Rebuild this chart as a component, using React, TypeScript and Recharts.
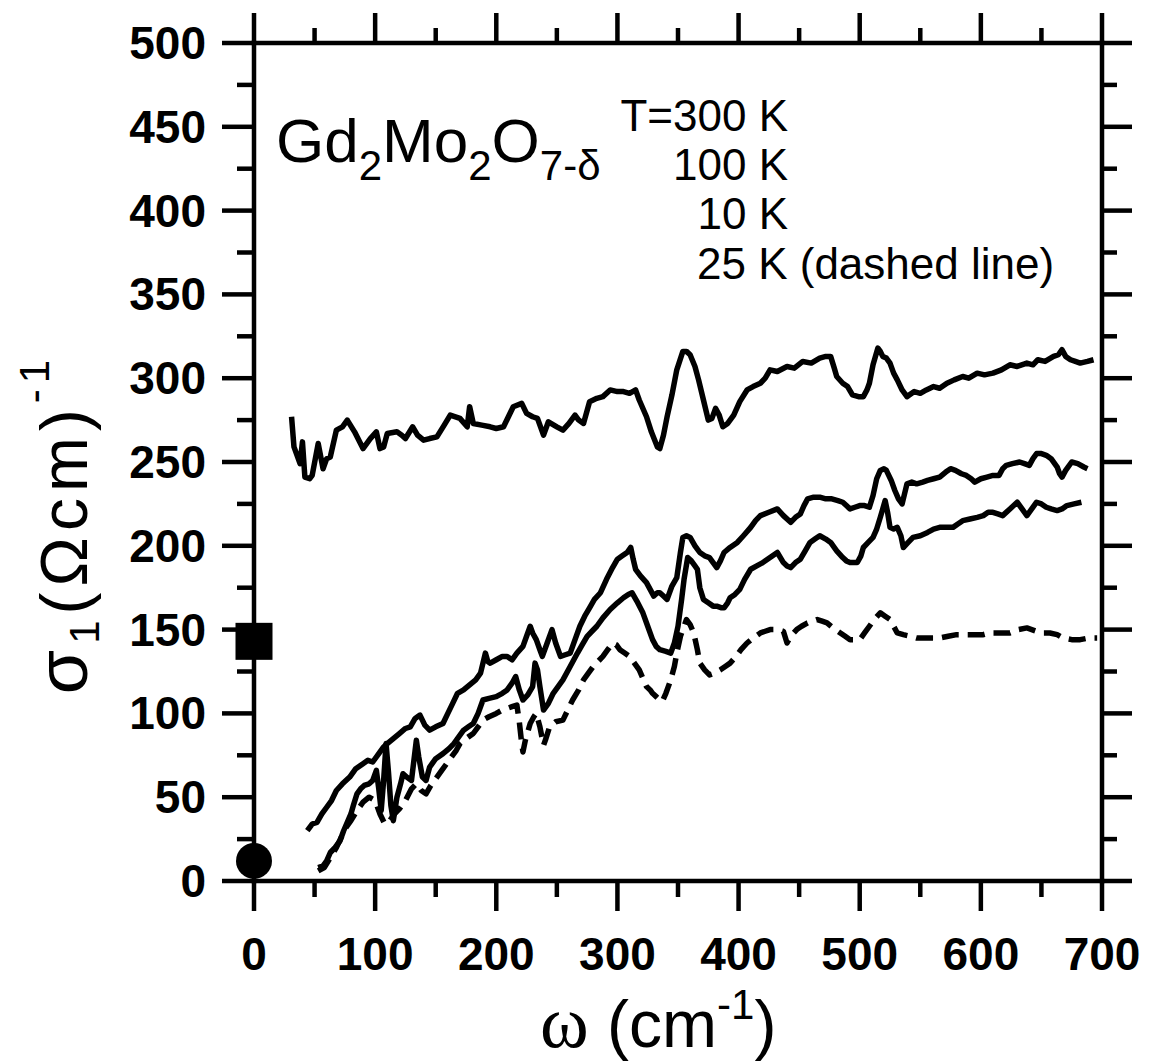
import React from 'react';
import { ComposedChart, Line, Scatter, XAxis, YAxis } from 'recharts';

// ---------- data ----------
const omega300 = [31, 33, 38, 40, 42, 46, 48, 53, 57, 60, 63, 68, 73, 77, 83, 90, 96, 101, 104, 107, 110, 118, 122, 125, 131, 135, 140, 145, 151, 157, 162, 170, 176, 178, 181, 188, 195, 200, 206, 214, 221, 225, 230, 234, 239, 243, 250, 255, 260, 265, 268, 272, 277, 283, 288, 294, 300, 305, 310, 315, 318, 324, 328, 333, 335, 338, 341, 345, 349, 354, 357, 360, 364, 367, 371, 375, 378, 381, 384, 387, 391, 396, 401, 407, 412, 418, 422, 426, 432, 440, 446, 453, 460, 467, 472, 476, 479, 481, 486, 490, 494, 499, 503, 506, 508, 511, 515, 517, 519, 522, 525, 528, 531, 535, 539, 545, 550, 555, 561, 566, 572, 578, 585, 590, 597, 603, 610, 617, 624, 630, 638, 643, 647, 653, 660, 664, 667, 670, 674, 678, 682, 688, 693];
const sigma300 = [277, 259, 249, 262, 241, 240, 242, 261, 246, 252, 253, 269, 271, 275, 268, 258, 264, 268, 258, 259, 267, 268, 266, 264, 271, 266, 263, 264, 265, 272, 278, 276, 271, 283, 273, 272, 271, 270, 271, 283, 285, 279, 277, 276, 266, 274, 271, 269, 273, 278, 275, 273, 286, 288, 289, 293, 292, 292, 291, 293, 287, 277, 268, 259, 258, 266, 277, 290, 305, 316, 316, 314, 307, 299, 287, 275, 276, 282, 278, 271, 273, 278, 286, 293, 295, 297, 300, 305, 304, 307, 306, 310, 309, 312, 313, 313, 306, 301, 297, 295, 290, 289, 289, 293, 297, 308, 318, 316, 313, 312, 309, 303, 299, 293, 289, 292, 291, 293, 295, 294, 297, 299, 301, 300, 303, 302, 303, 305, 308, 307, 309, 308, 311, 310, 313, 314, 317, 313, 311, 310, 309, 310, 311];

const omega100 = [44, 48, 52, 56, 60, 64, 68, 73, 79, 84, 90, 94, 98, 103, 107, 110, 115, 120, 125, 129, 133, 137, 141, 145, 150, 156, 160, 164, 168, 173, 178, 183, 187, 191, 193, 195, 200, 205, 209, 213, 217, 222, 225, 228, 230, 233, 236, 238, 242, 246, 249, 253, 257, 261, 265, 269, 273, 277, 281, 286, 291, 296, 300, 304, 308, 311, 313, 315, 319, 324, 327, 330, 333, 335, 338, 341, 345, 349, 352, 354, 357, 360, 364, 368, 372, 376, 379, 382, 385, 388, 393, 399, 404, 410, 414, 418, 425, 432, 437, 443, 447, 451, 454, 457, 462, 467, 472, 477, 482, 486, 489, 492, 496, 500, 504, 508, 511, 514, 517, 520, 522, 526, 529, 532, 535, 537, 539, 543, 547, 552, 556, 561, 566, 571, 575, 579, 584, 588, 592, 595, 600, 605, 610, 615, 618, 621, 626, 632, 636, 640, 643, 646, 650, 654, 658, 663, 665, 667, 670, 675, 680, 685, 688];
const sigma100 = [30, 34, 35, 40, 44, 48, 54, 58, 62, 67, 70, 72, 71, 76, 80, 82, 85, 88, 91, 92, 97, 99, 93, 90, 92, 94, 100, 106, 112, 114, 117, 120, 124, 136, 131, 130, 132, 134, 134, 132, 136, 140, 146, 152, 148, 144, 138, 134, 142, 150, 142, 134, 135, 136, 144, 152, 158, 163, 168, 172, 180, 187, 192, 194, 196, 199, 192, 186, 182, 178, 174, 170, 172, 172, 170, 168, 176, 181, 196, 205, 206, 205, 200, 196, 194, 193, 190, 187, 191, 196, 199, 202, 206, 211, 215, 218, 220, 222, 218, 214, 217, 219, 224, 228, 229, 229, 228, 228, 227, 226, 224, 222, 223, 224, 224, 223, 230, 240, 245, 246, 245, 239, 233, 228, 225, 231, 237, 238, 237, 238, 239, 240, 241, 244, 246, 245, 243, 242, 240, 238, 240, 241, 242, 242, 246, 248, 249, 250, 249, 248, 252, 255, 255, 254, 252, 247, 243, 241, 245, 250, 249, 247, 246];

const omega10 = [53, 57, 60, 63, 67, 71, 74, 77, 80, 82, 85, 88, 91, 95, 98, 101, 103, 105, 107, 109, 111, 113, 115, 118, 121, 123, 126, 130, 132, 134, 136, 139, 142, 145, 150, 156, 161, 165, 169, 173, 177, 181, 185, 189, 194, 200, 205, 209, 213, 216, 219, 222, 226, 230, 232, 234, 236, 239, 243, 247, 251, 255, 261, 267, 271, 275, 279, 283, 288, 294, 300, 305, 309, 312, 316, 321, 325, 329, 332, 335, 340, 344, 347, 350, 353, 355, 358, 361, 364, 366, 368, 371, 375, 379, 382, 386, 388, 391, 393, 397, 401, 405, 410, 415, 420, 426, 432, 437, 440, 443, 447, 451, 455, 459, 463, 467, 472, 476, 481, 486, 489, 492, 498, 501, 503, 507, 511, 514, 517, 519, 521, 523, 525, 528, 531, 534, 536, 540, 544, 550, 556, 561, 566, 572, 577, 581, 585, 591, 597, 602, 606, 610, 614, 618, 624, 630, 634, 638, 642, 646, 650, 654, 658, 663, 667, 671, 677, 683];
const sigma10 = [8, 9, 12, 17, 20, 24, 30, 35, 40, 45, 52, 55, 57, 58, 60, 66, 55, 42, 60, 82, 65, 45, 36, 50, 58, 64, 62, 60, 72, 84, 74, 62, 60, 68, 73, 76, 79, 82, 86, 90, 92, 94, 100, 108, 109, 110, 112, 114, 118, 122, 114, 108, 111, 116, 130, 126, 116, 102, 106, 112, 116, 120, 128, 136, 141, 146, 149, 152, 157, 162, 166, 169, 171, 172, 167, 160, 152, 144, 140, 138, 137, 136, 142, 152, 168, 180, 193, 191, 188, 186, 175, 168, 166, 164, 164, 163, 163, 166, 169, 171, 174, 180, 186, 188, 190, 193, 196, 190, 188, 187, 190, 192, 197, 202, 204, 206, 204, 202, 197, 193, 191, 190, 190, 194, 199, 202, 205, 210, 217, 222, 227, 220, 211, 210, 211, 206, 199, 202, 205, 206, 208, 210, 211, 211, 211, 213, 215, 216, 217, 218, 220, 220, 219, 218, 222, 226, 222, 218, 222, 226, 225, 223, 222, 221, 222, 224, 225, 226];

const omega25 = [53, 58, 63, 68, 72, 76, 80, 85, 90, 95, 100, 104, 108, 112, 116, 120, 125, 130, 134, 138, 142, 146, 151, 155, 159, 163, 167, 170, 173, 177, 181, 185, 189, 194, 200, 205, 209, 213, 217, 219, 221, 222, 224, 228, 231, 233, 236, 239, 241, 244, 249, 255, 259, 263, 268, 272, 276, 280, 284, 288, 292, 296, 299, 302, 306, 310, 314, 318, 321, 324, 327, 329, 332, 335, 337, 340, 344, 347, 349, 352, 355, 357, 360, 363, 366, 368, 372, 376, 380, 385, 389, 393, 398, 402, 407, 412, 418, 422, 426, 432, 437, 440, 443, 448, 452, 457, 461, 465, 469, 473, 478, 484, 488, 492, 496, 500, 504, 508, 512, 517, 521, 525, 528, 531, 536, 542, 547, 552, 559, 566, 573, 580, 586, 591, 597, 602, 607, 612, 618, 624, 631, 638, 642, 646, 651, 657, 663, 668, 675, 682, 689, 696];
const sigma25 = [6, 8, 14, 20, 26, 32, 36, 42, 47, 50, 48, 40, 34, 36, 40, 43, 48, 55, 58, 54, 52, 57, 62, 66, 70, 74, 78, 82, 84, 86, 88, 92, 96, 98, 100, 102, 103, 104, 105, 95, 82, 77, 84, 94, 98, 100, 92, 81, 85, 92, 95, 96, 102, 108, 114, 120, 124, 128, 131, 134, 138, 142, 141, 138, 136, 134, 130, 126, 121, 116, 114, 112, 110, 108, 107, 112, 120, 128, 136, 146, 152, 156, 153, 148, 138, 130, 126, 123, 124, 126, 128, 130, 134, 138, 142, 145, 148, 149, 150, 150, 149, 142, 146, 150, 152, 154, 155, 156, 155, 154, 151, 148, 146, 144, 144, 144, 148, 152, 156, 160, 158, 156, 152, 148, 147, 146, 145, 145, 145, 145, 146, 147, 147, 147, 147, 147, 148, 148, 148, 148, 150, 151, 150, 149, 148, 148, 147, 145, 144, 144, 145, 145];

// dc conductivity points at omega = 0
const dcOmega = [0, 0];
const dcSigma = [143, 12];
const dcShape = ['square', 'circle'];

const xTicks = [0, 50, 100, 150, 200, 250, 300, 350, 400, 450, 500, 550, 600, 650, 700];
const yTicks = [0, 25, 50, 75, 100, 125, 150, 175, 200, 225, 250, 275, 300, 325, 350, 375, 400, 425, 450, 475, 500];

const legendLines = ['T=300 K', '100 K', '10 K'];
const legendDashed = '25 K (dashed line)';

// ---------- helpers ----------
const zip = (xs: number[], ys: number[]) => xs.map((x, i) => ({ x, y: ys[i] }));
const data300 = zip(omega300, sigma300);
const data100 = zip(omega100, sigma100);
const data10 = zip(omega10, sigma10);
const data25 = zip(omega25, sigma25);
const dcData = dcOmega.map((x, i) => ({ x, y: dcSigma[i], shape: dcShape[i] }));

const SANS = '"Liberation Sans", Arial, Helvetica, sans-serif';
const SERIF = '"Liberation Serif", "Times New Roman", serif';
const AX = 4.5;
const LW = 5.5;

const BottomTick = (p: any) => {
  const { x, y, payload } = p;
  const major = payload.value % 100 === 0;
  return (
    <g>
      <line x1={x} x2={x} y1={y} y2={y + (major ? 30 : 16)} stroke="#000" strokeWidth={AX} />
      {major && (
        <text x={x} y={y + 89} textAnchor="middle" fontFamily={SANS} fontWeight="bold" fontSize={46} fill="#000">
          {payload.value}
        </text>
      )}
    </g>
  );
};
const TopTick = (p: any) => {
  const { x, y, payload } = p;
  const major = payload.value % 100 === 0;
  return <line x1={x} x2={x} y1={y} y2={y - (major ? 30 : 15)} stroke="#000" strokeWidth={AX} />;
};
const LeftTick = (p: any) => {
  const { x, y, payload } = p;
  const major = payload.value % 50 === 0;
  return (
    <g>
      <line x1={x} x2={x - (major ? 32 : 17)} y1={y} y2={y} stroke="#000" strokeWidth={AX} />
      {major && (
        <text x={x - 48} y={y + 16} textAnchor="end" fontFamily={SANS} fontWeight="bold" fontSize={46} fill="#000">
          {payload.value}
        </text>
      )}
    </g>
  );
};
const RightTick = (p: any) => {
  const { x, y, payload } = p;
  const major = payload.value % 50 === 0;
  return <line x1={x} x2={x + (major ? 30 : 15)} y1={y} y2={y} stroke="#000" strokeWidth={AX} />;
};

const XTitle = () => (
  <text x={540} y={1047} fontFamily={SANS} fontSize={66} fill="#000">
    <tspan fontFamily={SERIF} fontSize={74}>ω</tspan>
    <tspan> (cm</tspan>
    <tspan dy={-28} fontSize={42}>-1</tspan>
    <tspan dy={28}>)</tspan>
  </text>
);

const YTitle = () => (
  <text x={87} y={524} transform="rotate(-90, 87, 524)" textAnchor="middle" fontFamily={SANS} fontSize={66} letterSpacing={6} fill="#000">
    <tspan fontSize={72}>σ</tspan>
    <tspan dy={12} fontSize={42}>1</tspan>
    <tspan dy={-12}>(Ωcm)</tspan>
    <tspan dy={-38} fontSize={42}>-1</tspan>
  </text>
);

const Annotation = () => (
  <g>
    <text x={276} y={162} fontFamily={SANS} fontSize={62} fill="#000">
      <tspan>Gd</tspan>
      <tspan dy={18} fontSize={42}>2</tspan>
      <tspan dy={-18}>Mo</tspan>
      <tspan dy={18} fontSize={42}>2</tspan>
      <tspan dy={-18}>O</tspan>
      <tspan dy={18} fontSize={42}>7-δ</tspan>
    </text>
    {legendLines.map((t, i) => (
      <text key={t} x={788} y={131 + i * 49} textAnchor="end" fontFamily={SANS} fontSize={44} fill="#000">
        {t}
      </text>
    ))}
    <text x={697} y={279} fontFamily={SANS} fontSize={44} fill="#000">
      {legendDashed}
    </text>
  </g>
);

const Marker = (p: any) => {
  const { cx, cy, payload } = p;
  if (payload.shape === 'square') {
    return <rect x={cx - 18.5} y={cy - 18.5} width={37} height={37} fill="#000" />;
  }
  return <circle cx={cx} cy={cy} r={18} fill="#000" />;
};

const axisLine = { stroke: '#000', strokeWidth: AX, strokeLinecap: 'square' as const };

export default function App() {
  return (
    <div style={{ position: 'absolute', left: 0, top: 0, width: 1155, height: 1063, background: '#fff' }}>
      <ComposedChart width={1155} height={1063} margin={{ top: 0, right: 0, bottom: 0, left: 0 }}>
        <XAxis
          xAxisId="b" type="number" dataKey="x" domain={[0, 700]} ticks={xTicks} interval={0}
          height={182} tickSize={0} tickMargin={0} tickLine={false} axisLine={axisLine}
          tick={(p: any) => <BottomTick {...p} />} label={() => <XTitle />}
        />
        <XAxis
          xAxisId="t" orientation="top" type="number" dataKey="x" domain={[0, 700]} ticks={xTicks} interval={0}
          height={43} tickSize={0} tickMargin={0} tickLine={false} axisLine={axisLine}
          tick={(p: any) => <TopTick {...p} />} label={() => <Annotation />}
        />
        <YAxis
          yAxisId="l" type="number" dataKey="y" domain={[0, 500]} ticks={yTicks} interval={0}
          width={254} tickSize={0} tickMargin={0} tickLine={false} axisLine={axisLine}
          tick={(p: any) => <LeftTick {...p} />} label={() => <YTitle />}
        />
        <YAxis
          yAxisId="r" orientation="right" type="number" dataKey="y" domain={[0, 500]} ticks={yTicks} interval={0}
          width={53} tickSize={0} tickMargin={0} tickLine={false} axisLine={axisLine}
          tick={(p: any) => <RightTick {...p} />}
        />
        <Line xAxisId="t" yAxisId="r" data={data25} dataKey="y" stroke="none" dot={false} activeDot={false} isAnimationActive={false} legendType="none" />
        <Line xAxisId="b" yAxisId="l" data={data300} dataKey="y" stroke="#000" strokeWidth={LW} strokeLinejoin="round" dot={false} isAnimationActive={false} />
        <Line xAxisId="b" yAxisId="l" data={data100} dataKey="y" stroke="#000" strokeWidth={LW} strokeLinejoin="round" dot={false} isAnimationActive={false} />
        <Line xAxisId="b" yAxisId="l" data={data10} dataKey="y" stroke="#000" strokeWidth={LW} strokeLinejoin="round" dot={false} isAnimationActive={false} />
        <Line xAxisId="b" yAxisId="l" data={data25} dataKey="y" stroke="#000" strokeWidth={LW} strokeDasharray="17 9" strokeLinejoin="round" dot={false} isAnimationActive={false} />
        <Scatter xAxisId="b" yAxisId="l" data={dcData} dataKey="y" shape={(p: any) => <Marker {...p} />} isAnimationActive={false} />
      </ComposedChart>
    </div>
  );
}
